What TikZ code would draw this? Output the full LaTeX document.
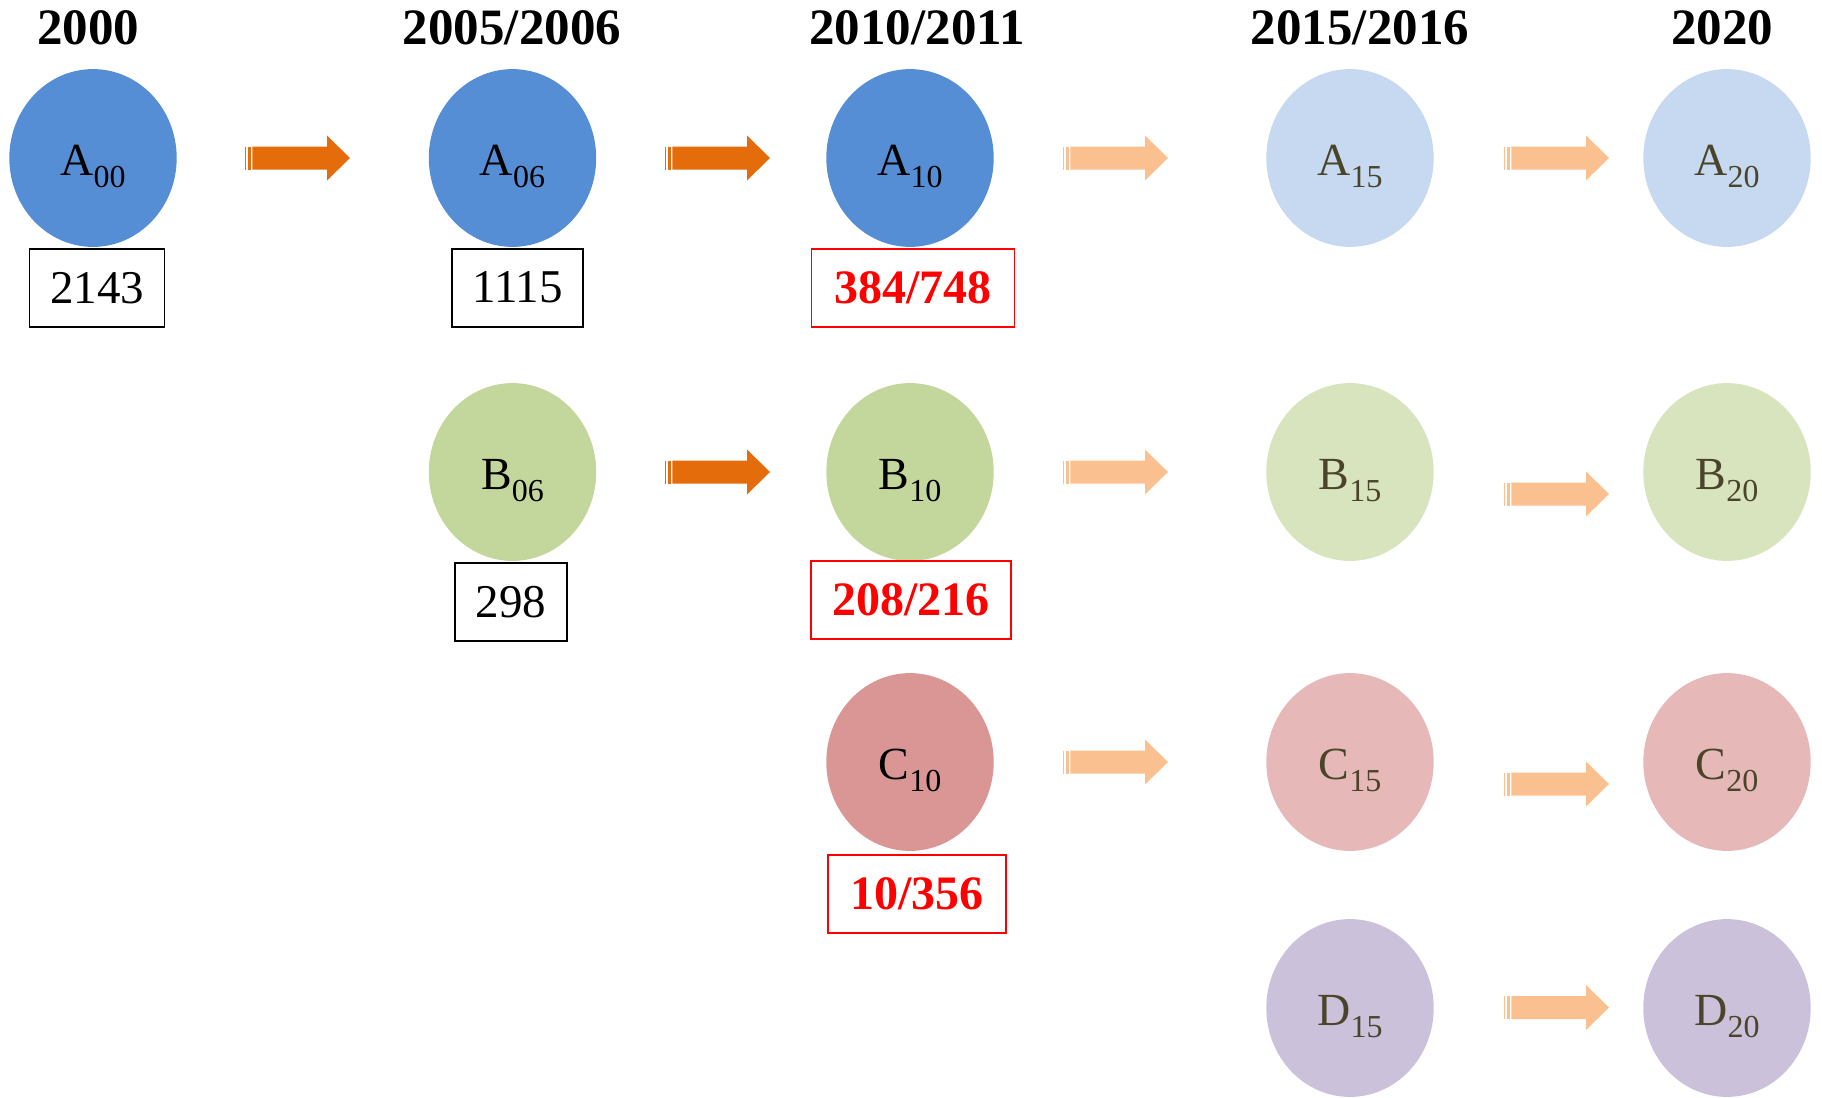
\documentclass[tikz,border=0pt]{standalone}
\usepackage{fontspec}
\setmainfont{Liberation Serif}
\usetikzlibrary{shapes.geometric,calc}
\definecolor{cA}{HTML}{558ED5}
\definecolor{cB}{HTML}{C3D69B}
\definecolor{cC}{HTML}{D99694}
\definecolor{fA}{HTML}{C6D9F1}
\definecolor{fB}{HTML}{D7E4BD}
\definecolor{fC}{HTML}{E6B9B8}
\definecolor{fD}{HTML}{CCC1DA}
\definecolor{darkarrow}{HTML}{E46C0A}
\definecolor{lightarrow}{HTML}{FAC090}
\definecolor{fadedtext}{HTML}{4A452A}
\newcommand\sublbl[2]{#1\raisebox{-12pt}{\fontsize{32}{32}\selectfont #2}}
\begin{document}
\begin{tikzpicture}[x=1pt,y=-1pt,
  ell/.style={ellipse, minimum width=167.4pt, minimum height=177.8pt, inner sep=0pt, draw=none},
  nodetext/.style={anchor=base, inner sep=0pt, font=\fontsize{46}{46}\selectfont},
  header/.style={inner sep=0pt, font=\fontsize{51}{51}\selectfont\bfseries},
  numbox/.style={draw=black, line width=1.6pt, inner sep=0pt, minimum height=78pt, font=\fontsize{47}{47}\selectfont},
  redbox/.style={draw=red, line width=1.8pt, inner sep=0pt, minimum height=78pt, text=red, font=\fontsize{48}{48}\selectfont\bfseries},
  blockarr/.pic={
    \fill[#1] (0,-11.5) rectangle (1.3,11.5);
    \fill[#1] (3.3,-11.5) rectangle (6,11.5);
    \fill[#1] (7.3,-11.5) -- (82,-11.5) -- (82,-22.5) -- (105,0) -- (82,22.5) -- (82,11.5) -- (7.3,11.5) -- cycle;
  }]
\useasboundingbox (0,0) rectangle (1822,1097);

% headers
\node[header] (h1) at (88,28) {2000};
\node[header] (h2) at (512,28) {2005/2006};
\node[header] (h3) at (917,28) {2010/2011};
\node[header] (h4) at (1360,28) {2015/2016};
\node[header] (h5) at (1722,28) {2020};

% ellipses
\node[ell, fill=cA] (A00) at (93,158) {};
\node[ell, fill=cA] (A06) at (512.5,158) {};
\node[ell, fill=cA] (A10) at (910,158) {};
\node[ell, fill=fA] (A15) at (1350,158) {};
\node[ell, fill=fA] (A20) at (1727,158) {};
\node[ell, fill=cB] (B06) at (512.5,472) {};
\node[ell, fill=cB] (B10) at (910,472) {};
\node[ell, fill=fB] (B15) at (1350,472) {};
\node[ell, fill=fB] (B20) at (1727,472) {};
\node[ell, fill=cC] (C10) at (910,762) {};
\node[ell, fill=fC] (C15) at (1350,762) {};
\node[ell, fill=fC] (C20) at (1727,762) {};
\node[ell, fill=fD] (D15) at (1350,1008) {};
\node[ell, fill=fD] (D20) at (1727,1008) {};

% labels
\node[nodetext] (tA00) at ($(A00)+(0,17.7)$) {\sublbl{A}{00}};
\node[nodetext] (tA06) at ($(A06)+(0,17.7)$) {\sublbl{A}{06}};
\node[nodetext] (tA10) at ($(A10)+(0,17.7)$) {\sublbl{A}{10}};
\node[nodetext, text=fadedtext] (tA15) at ($(A15)+(0,17.7)$) {\sublbl{A}{15}};
\node[nodetext, text=fadedtext] (tA20) at ($(A20)+(0,17.7)$) {\sublbl{A}{20}};
\node[nodetext] (tB06) at ($(B06)+(0,17.7)$) {\sublbl{B}{06}};
\node[nodetext] (tB10) at ($(B10)+(0,17.7)$) {\sublbl{B}{10}};
\node[nodetext, text=fadedtext] (tB15) at ($(B15)+(0,17.7)$) {\sublbl{B}{15}};
\node[nodetext, text=fadedtext] (tB20) at ($(B20)+(0,17.7)$) {\sublbl{B}{20}};
\node[nodetext] (tC10) at ($(C10)+(0,17.7)$) {\sublbl{C}{10}};
\node[nodetext, text=fadedtext] (tC15) at ($(C15)+(0,17.7)$) {\sublbl{C}{15}};
\node[nodetext, text=fadedtext] (tC20) at ($(C20)+(0,17.7)$) {\sublbl{C}{20}};
\node[nodetext, text=fadedtext] (tD15) at ($(D15)+(0,17.7)$) {\sublbl{D}{15}};
\node[nodetext, text=fadedtext] (tD20) at ($(D20)+(0,17.7)$) {\sublbl{D}{20}};

% number boxes
\node[numbox, minimum width=135pt] (n00) at (97,287.7) {2143};
\node[numbox, minimum width=131pt] (n06) at (517.7,287.7) {1115};
\node[redbox, minimum width=203pt] (n10) at (913,287.7) {384/748};
\node[numbox, minimum width=111.5pt] (nB06) at (511,602) {298};
\node[redbox, minimum width=200pt] (nB10) at (911,600) {208/216};
\node[redbox, minimum width=178pt] (nC10) at (917,894) {10/356};

% block arrows
\pic at (245,158) {blockarr=darkarrow};
\pic at (665,158) {blockarr=darkarrow};
\pic at (1063,158) {blockarr=lightarrow};
\pic at (1504,158) {blockarr=lightarrow};
\pic at (665,472) {blockarr=darkarrow};
\pic at (1063,472) {blockarr=lightarrow};
\pic at (1504,494) {blockarr=lightarrow};
\pic at (1063,762) {blockarr=lightarrow};
\pic at (1504,784) {blockarr=lightarrow};
\pic at (1504,1007.5) {blockarr=lightarrow};
\end{tikzpicture}
\end{document}
